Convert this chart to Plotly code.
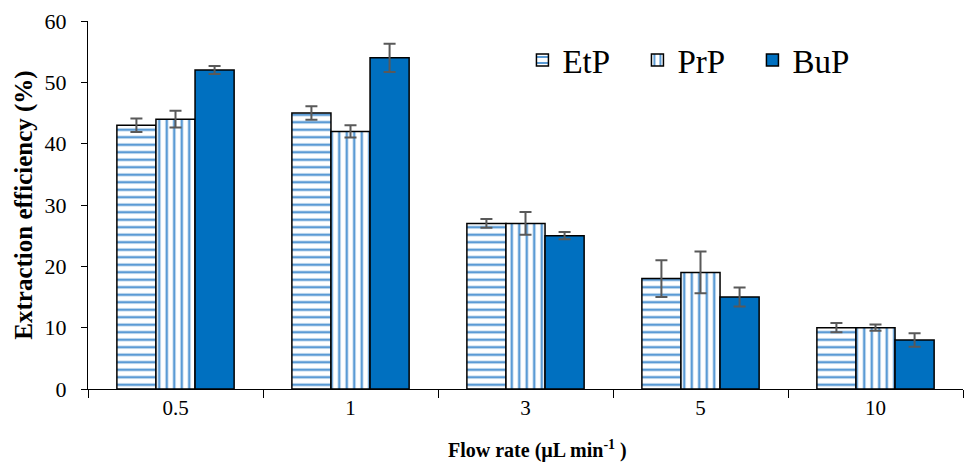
import plotly.graph_objects as go

categories = ["0.5", "1", "3", "5", "10"]
series_names = ["EtP", "PrP", "BuP"]
etp = [43, 45, 27, 18, 10]
prp = [44, 42, 27, 19, 10]
bup = [52, 54, 25, 15, 8]
etp_err = [1.1, 1.1, 0.7, 3.0, 0.75]
prp_err = [1.35, 1.0, 1.85, 3.4, 0.5]
bup_err = [0.65, 2.3, 0.6, 1.55, 1.1]

LIGHT = "#5b9bd5"
DARK = "#0070c0"
ERR = "#595959"
FONT = "Liberation Serif, Times New Roman, serif"

fig = go.Figure()
styles = [
    dict(marker=dict(color="white", line=dict(color="black", width=1.5),
                     pattern=dict(shape="-", fgcolor=LIGHT, bgcolor="white", size=7.5, solidity=0.33, fillmode="replace"))),
    dict(marker=dict(color="white", line=dict(color="black", width=1.5),
                     pattern=dict(shape="|", fgcolor=LIGHT, bgcolor="white", size=7.5, solidity=0.33, fillmode="replace"))),
    dict(marker=dict(color=DARK, line=dict(color="black", width=1.5))),
]
for name, vals, errs, st in zip(series_names, [etp, prp, bup], [etp_err, prp_err, bup_err], styles):
    fig.add_trace(go.Bar(
        x=categories, y=vals, name=name,
        error_y=dict(type="data", array=errs, visible=True, color=ERR, thickness=2, width=6),
        **st,
    ))

fig.update_layout(
    width=965, height=463,
    margin=dict(l=88, r=2, t=21, b=74),
    plot_bgcolor="white", paper_bgcolor="white",
    barmode="group", bargap=0.33, bargroupgap=0,
    font=dict(family=FONT, color="black", size=21),
    legend=dict(orientation="h", x=0.4965, y=0.97, xanchor="left", yanchor="top",
                entrywidth=70, font=dict(size=33, family=FONT), bgcolor="rgba(0,0,0,0)"),
    xaxis=dict(
        showline=True, linecolor="black", linewidth=1.2,
        ticks="outside", tickson="boundaries", ticklen=8, tickcolor="black",
        tickfont=dict(size=21, family=FONT),
        showgrid=False,
    ),
    yaxis=dict(
        range=[0, 60], dtick=10,
        showline=True, linecolor="black", linewidth=1.2,
        ticks="outside", ticklen=6, tickcolor="black", ticklabelstandoff=10,
        tickfont=dict(size=22, family=FONT),
        title=dict(text="<b>Extraction efficiency (%)</b>", font=dict(size=25, family=FONT), standoff=4),
        showgrid=False, zeroline=False,
    ),
    annotations=[dict(
        text="<b>Flow rate (µL min<sup>-1</sup> )</b>", xref="paper", yref="paper",
        x=(537 - 88) / 875, y=-0.125, xanchor="center", yanchor="top", showarrow=False,
        font=dict(size=20, family=FONT),
    )],
)

fig.write_html("out.html")
